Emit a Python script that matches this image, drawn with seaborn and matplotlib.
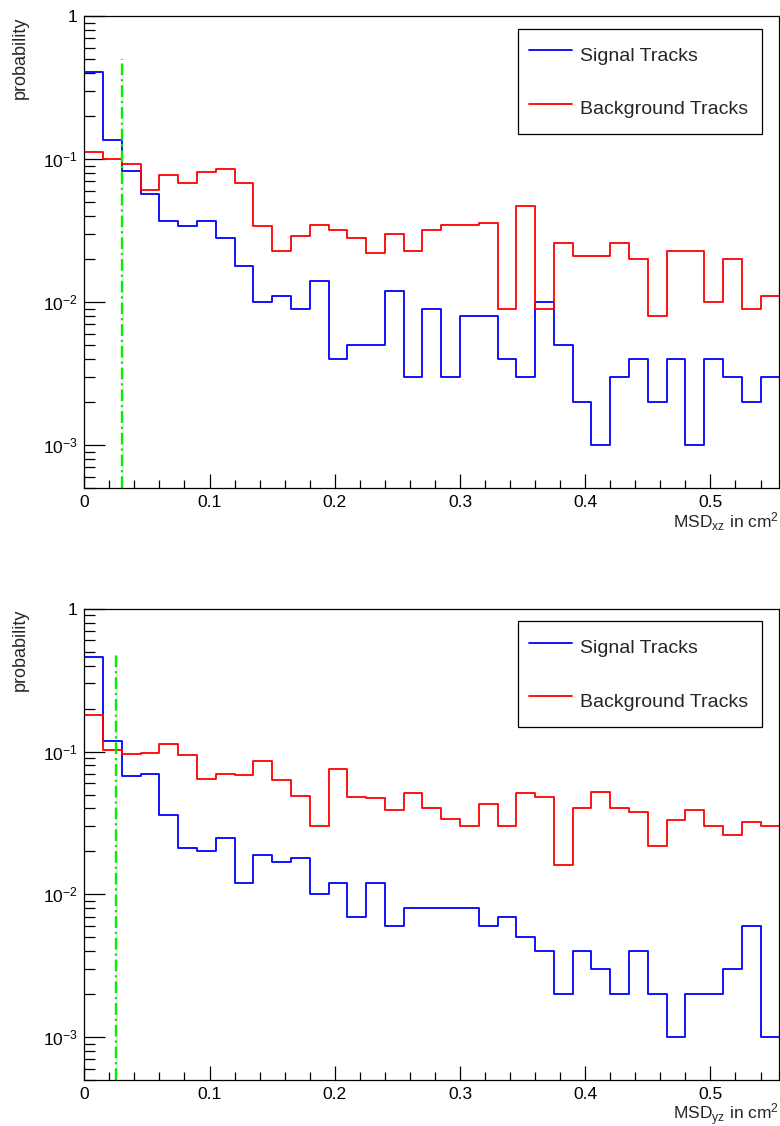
import numpy as np
import pandas as pd
import matplotlib
matplotlib.use("Agg")
import matplotlib.pyplot as plt
import seaborn as sns
from matplotlib.lines import Line2D
from matplotlib.ticker import FixedLocator, FixedFormatter, MultipleLocator, LogLocator, NullFormatter

# ---------------- data ----------------
bin_width = 0.015
n_bins = 37
bin_edges = [round(i * bin_width, 4) for i in range(n_bins + 1)]
bin_centers = [(bin_edges[i] + bin_edges[i + 1]) / 2 for i in range(n_bins)]

sig_xz = [0.41, 0.136, 0.083, 0.057, 0.037, 0.034, 0.037, 0.028, 0.018, 0.010,
          0.011, 0.009, 0.014, 0.004, 0.005, 0.005, 0.012, 0.003, 0.009, 0.003,
          0.008, 0.008, 0.004, 0.003, 0.010, 0.005, 0.002, 0.001, 0.003, 0.004,
          0.002, 0.004, 0.001, 0.004, 0.003, 0.002, 0.003]
bkg_xz = [0.112, 0.101, 0.093, 0.061, 0.078, 0.068, 0.081, 0.086, 0.068, 0.034,
          0.023, 0.029, 0.035, 0.032, 0.028, 0.022, 0.030, 0.023, 0.032, 0.035,
          0.035, 0.036, 0.009, 0.047, 0.009, 0.026, 0.021, 0.021, 0.026, 0.020,
          0.008, 0.023, 0.023, 0.010, 0.020, 0.009, 0.011]
sig_yz = [0.46, 0.118, 0.067, 0.070, 0.036, 0.021, 0.020, 0.025, 0.012, 0.019,
          0.017, 0.018, 0.010, 0.012, 0.007, 0.012, 0.006, 0.008, 0.008, 0.008,
          0.008, 0.006, 0.007, 0.005, 0.004, 0.002, 0.004, 0.003, 0.002, 0.004,
          0.002, 0.001, 0.002, 0.002, 0.003, 0.006, 0.001]
bkg_yz = [0.179, 0.102, 0.096, 0.098, 0.113, 0.094, 0.064, 0.070, 0.069, 0.086,
          0.063, 0.049, 0.030, 0.075, 0.048, 0.047, 0.039, 0.051, 0.040, 0.034,
          0.030, 0.043, 0.030, 0.051, 0.048, 0.016, 0.040, 0.052, 0.040, 0.038,
          0.022, 0.033, 0.039, 0.030, 0.026, 0.032, 0.030]

cut_xz = 0.03
cut_yz = 0.025
cut_top = 0.5

series_labels = ["Signal Tracks", "Background Tracks"]
x_ticks = [0, 0.1, 0.2, 0.3, 0.4, 0.5]
x_tick_labels = ["0", "0.1", "0.2", "0.3", "0.4", "0.5"]
y_ticks = [1e-3, 1e-2, 1e-1, 1]
y_tick_labels = [r"$10^{-3}$", r"$10^{-2}$", r"$10^{-1}$", "1"]
y_range = (5e-4, 1)
y_title = "probability"
x_title_xz = r"MSD$_{\mathrm{xz}}$ in cm$^{\mathrm{2}}$"
x_title_yz = r"MSD$_{\mathrm{yz}}$ in cm$^{\mathrm{2}}$"

# ---------------- style ----------------
sns.set_theme(style="white")
plt.rcParams["font.family"] = ["Liberation Sans", "DejaVu Sans"]
plt.rcParams["mathtext.fontset"] = "custom"
plt.rcParams["mathtext.rm"] = "Liberation Sans"
plt.rcParams["mathtext.it"] = "Liberation Sans:italic"
plt.rcParams["mathtext.bf"] = "Liberation Sans:bold"
plt.rcParams["mathtext.sf"] = "Liberation Sans"

BLUE = "#0000ff"
RED = "#ff0000"
GREEN = "#00f000"
LW = 1.3

fig = plt.figure(figsize=(7.8, 11.26), dpi=100)
ax1 = fig.add_axes([0.1081, 0.5663, 0.891, 0.4192])
ax2 = fig.add_axes([0.1081, 0.0406, 0.891, 0.4188])


def panel(ax, sig, bkg, cut, xtitle, xlab_y):
    df = pd.DataFrame({"x": bin_centers, "sig": sig, "bkg": bkg})
    sns.histplot(data=df, x="x", weights="sig", bins=bin_edges, element="step",
                 fill=False, color=BLUE, linewidth=LW, ax=ax)
    sns.histplot(data=df, x="x", weights="bkg", bins=bin_edges, element="step",
                 fill=False, color=RED, linewidth=LW, ax=ax)
    # left edges of the histograms (drop to the axis floor)
    ax.plot([bin_edges[0], bin_edges[0]], [y_range[0], bkg[0]], color=RED, lw=LW)
    ax.plot([bin_edges[0], bin_edges[0]], [y_range[0], sig[0]], color=BLUE, lw=LW)
    # cut line
    ax.plot([cut, cut], [y_range[0], cut_top], color=GREEN, lw=1.7,
            linestyle=(0, (5, 1.6, 1, 1.6)))

    ax.set_yscale("log")
    ax.set_xlim(bin_edges[0], bin_edges[-1])
    ax.set_ylim(*y_range)

    ax.xaxis.set_major_locator(FixedLocator(x_ticks))
    ax.xaxis.set_major_formatter(FixedFormatter(x_tick_labels))
    ax.xaxis.set_minor_locator(MultipleLocator(0.02))
    ax.yaxis.set_major_locator(FixedLocator(y_ticks))
    ax.yaxis.set_major_formatter(FixedFormatter(y_tick_labels))
    ax.yaxis.set_minor_locator(LogLocator(base=10, subs=np.arange(2, 10)))
    ax.yaxis.set_minor_formatter(NullFormatter())

    ax.tick_params(which="both", direction="in", top=False, right=False,
                   bottom=True, left=True, colors="black", width=0.9)
    ax.tick_params(axis="both", which="major", labelsize=12.5)
    ax.tick_params(axis="y", which="major", length=15, pad=5)
    ax.tick_params(axis="y", which="minor", length=7.7)
    ax.tick_params(axis="x", which="major", length=10, pad=5)
    ax.tick_params(axis="x", which="minor", length=6)

    for sp in ax.spines.values():
        sp.set_color("black")
        sp.set_linewidth(0.9)

    ax.set_ylabel(y_title, fontsize=13, loc="top")
    ax.yaxis.set_label_coords(-0.08, 1.0)
    ax.set_xlabel(xtitle, fontsize=12.5, loc="right")
    ax.xaxis.set_label_coords(1.0, xlab_y)

    handles = [Line2D([], [], color=BLUE, lw=LW), Line2D([], [], color=RED, lw=LW)]
    leg = ax.legend(handles, series_labels, loc="upper left",
                    bbox_to_anchor=(0.6245, 0.9737, 0.3502, 0.0), mode="expand",
                    borderaxespad=0, fontsize=14, frameon=True, fancybox=False,
                    framealpha=1, edgecolor="black", borderpad=0.55,
                    labelspacing=1.17, handlelength=2.2, handletextpad=0.41,
                    handleheight=2.05)
    leg.get_frame().set_linewidth(0.9)


panel(ax1, sig_xz, bkg_xz, cut_xz, x_title_xz, -0.046)
panel(ax2, sig_yz, bkg_yz, cut_yz, x_title_yz, -0.044)

fig.savefig("out.png", dpi=100)
